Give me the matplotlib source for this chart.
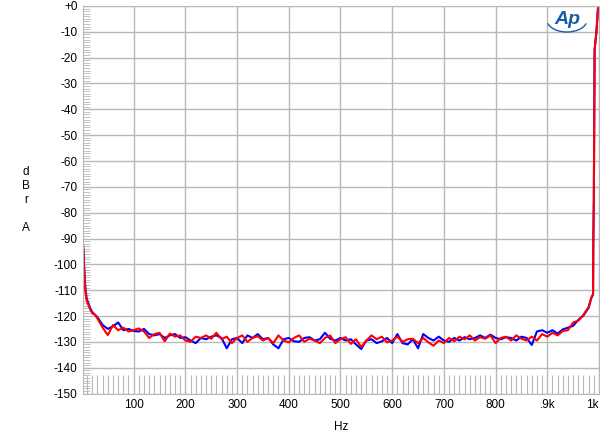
# noise floor plot, AP style, 1 kHz high-pass sweep

import matplotlib.pyplot as plt
from matplotlib.patches import Arc
from matplotlib.ticker import MultipleLocator, FixedLocator
import numpy as np

# low-frequency rise (Hz / dBrA)
low_freq = [2.5, 4, 5.5, 7, 9, 12, 16, 20, 25, 30]
low_blue = [-93, -100, -106, -110, -113, -115, -117, -118.5, -119.5, -120.5]
low_red = [-94, -101, -108, -111, -114, -115.5, -117.5, -119, -119.5, -121]

# main band, 40 Hz .. 980 Hz every 10 Hz
band_freq = list(range(40, 990, 10))
band_red = [
    -124.5, -127.4, -123.5, -125.5, -124.5, -126.0, -125.5, -124.8, -126.0, -128.5,
    -127.0, -126.5, -129.8, -126.8, -128.0, -127.5, -129.5, -130.0, -128.0, -128.5,
    -127.5, -128.8, -126.5, -129.0, -128.0, -130.5, -128.5, -127.5, -130.0, -128.5,
    -127.8, -129.5, -128.5, -130.5, -127.5, -129.5, -130.2, -128.5, -127.5, -130.0,
    -128.8, -129.5, -130.5, -128.5, -127.5, -130.5, -129.0, -128.2, -130.8, -129.0,
    -132.0, -129.5, -127.5, -129.0, -128.0, -130.2, -129.5, -128.0, -130.0, -129.0,
    -128.8, -130.5, -128.5, -130.2, -131.5, -129.5, -130.5, -128.5, -129.8, -128.0,
    -129.0, -127.5, -129.5, -128.2, -128.8, -127.5, -130.5, -128.5, -128.0, -129.5,
    -127.5, -128.8, -129.5, -128.0, -129.5, -127.0, -128.0, -126.5, -127.5, -125.8,
    -125.5, -122.5, -121.8, -119.5, -116.5,
]
band_blue = [
    -123.5, -125.0, -124.0, -122.5, -125.5, -125.0, -125.8, -126.0, -125.0, -127.0,
    -127.5, -127.0, -128.5, -127.5, -127.0, -128.5, -128.2, -129.5, -130.5, -128.5,
    -129.0, -128.0, -127.5, -128.5, -132.5, -129.0, -128.5, -130.5, -127.5, -128.5,
    -127.0, -129.0, -128.5, -131.0, -132.5, -129.0, -128.5, -129.8, -130.0, -128.5,
    -128.2, -129.5, -129.0, -126.5, -128.8, -129.5, -128.5, -129.5, -129.0, -131.0,
    -132.8, -129.5, -129.0, -130.5, -129.8, -128.5, -130.5, -127.0, -130.5, -131.0,
    -129.0, -132.5, -127.0, -128.5, -129.5, -128.0, -129.5, -130.0, -128.5, -129.5,
    -128.2, -129.0, -128.5, -127.5, -128.5, -127.2, -128.5, -129.0, -128.2, -128.5,
    -129.5, -128.0, -128.5, -131.2, -126.0, -125.5, -126.5, -125.5, -126.8, -125.2,
    -124.5, -123.8, -121.5, -119.8, -116.8,
]

# the 1 kHz tone edge
top_freq = [985, 988.5, 989, 990, 991.5, 995, 998, 1000]
top_blue = [-113, -111.8, -91.5, -75, -17, -10, -1, 0]
top_red = [-113, -111.5, -91.5, -75, -17, -10, -1, 0]

x_ticks = [100, 200, 300, 400, 500, 600, 700, 800, 900, 1000]
x_labels = ["100", "200", "300", "400", "500", "600", "700", "800", ".9k", "1k"]
y_ticks = list(range(0, -160, -10))
y_labels = ["+0"] + [str(v) for v in y_ticks[1:]]

freq = np.array(low_freq + band_freq + top_freq)
blue = np.array(low_blue + band_blue + top_blue)
red = np.array(low_red + band_red + top_red)

plt.rcParams['font.family'] = ['Liberation Sans', 'DejaVu Sans']
grid_col = "#b8b8b8"

fig = plt.figure(figsize=(6.0, 4.36), dpi=100)
ax = fig.add_axes([83 / 600, 42.5 / 436, 516 / 600, 387.5 / 436])

ax.plot(freq, blue, color="#0000ff", lw=1.5)
ax.plot(freq, red, color="#ff0000", lw=1.5)

ax.set_xlim(2, 1000)
ax.set_ylim(-150, 0)

ax.xaxis.set_major_locator(FixedLocator(x_ticks))
ax.set_xticklabels(x_labels)
ax.yaxis.set_major_locator(FixedLocator(y_ticks))
ax.set_yticklabels(y_labels)
ax.xaxis.set_minor_locator(MultipleLocator(10))
ax.yaxis.set_minor_locator(MultipleLocator(1))
# last label sits flush against the right edge
ax.get_xticklabels()[-1].set_horizontalalignment("right")

ax.grid(True, which="major", color=grid_col, lw=1.0)
ax.tick_params(which="major", length=0, labelsize=8.5, pad=4)
ax.tick_params(axis="x", which="minor", direction="in", length=14, width=0.8, color=grid_col)
ax.tick_params(axis="y", which="minor", direction="in", length=5, width=0.6, color=grid_col)
for s in ax.spines.values():
    s.set_color(grid_col)

ax.set_xlabel("Hz", fontsize=8.5, labelpad=7)
fig.text(26 / 600, 1 - 200 / 436, "d\nB\nr\n\nA", ha="center", va="center",
         fontsize=8.5, linespacing=1.2)

# AP logo
logo_col = "#1a5ea8"
fig.text(567 / 600, 1 - 19 / 436, "Ap", ha="center", va="center", fontsize=14,
         style="italic", color=logo_col, fontweight="bold")
fig.patches.append(Arc((567, 416), 40, 24, theta1=190, theta2=350,
                       transform=None, color=logo_col, lw=1.0))

fig.savefig("out.png", dpi=100)
